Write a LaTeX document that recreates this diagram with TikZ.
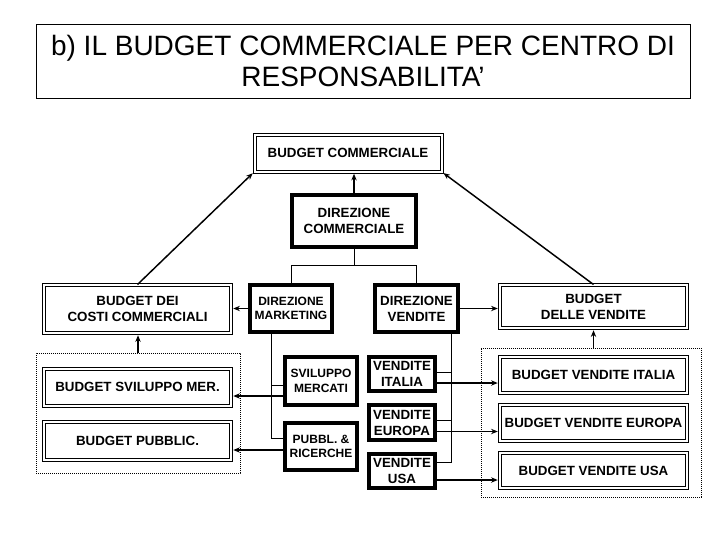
\documentclass[tikz,border=0pt]{standalone}
\usepackage{fontspec}
\setmainfont{Liberation Sans}
\usetikzlibrary{arrows.meta, calc}

\tikzset{
    dbox/.style 2 args={draw, double, double distance=1.5pt, line width=0.75pt,
        minimum width=#1*0.75pt, minimum height=#2*0.75pt, inner sep=0pt,
        align=center, font=\fontsize{10}{12}\selectfont\bfseries},
    tbox/.style 2 args={draw, line width=3pt,
        minimum width=#1*0.75pt, minimum height=#2*0.75pt, inner sep=0pt,
        align=center, font=\fontsize{10}{12}\selectfont\bfseries},
    smallfont/.style={font=\fontsize{9}{11}\selectfont\bfseries},
    dotbox/.style 2 args={draw, line width=0.6pt, dash pattern=on 0.6pt off 0.9pt,
        minimum width=#1*0.75pt, minimum height=#2*0.75pt, inner sep=0pt},
    arr/.style={-{Stealth[length=5pt,width=4pt]}, line width=1.1pt, shorten >=1.3pt},
    tree/.style={line width=0.75pt},
}

\begin{document}
\begin{tikzpicture}[x=0.75pt, y=-0.75pt]
    % Picture frame, in pixels of the 720 x 540 slide
    \useasboundingbox (0,0) rectangle (720,540);

    \def\mkx{271} % x of the marketing trunk line
    \def\vdx{451} % x of the sales trunk line

    % --- Title ---
    \node[draw, line width=0.75pt, minimum width=654*0.75pt, minimum height=74*0.75pt,
        align=center, font=\fontsize{21}{23.5}\selectfont] (title) at (363,61)
        {b) IL BUDGET COMMERCIALE PER CENTRO DI\\RESPONSABILITA’};

    % --- Dotted groups (drawn first, boxes go over them) ---
    \node[dotbox={204}{120}] (ldot) at (138,413) {};
    \node[dotbox={220}{149}] (rdot) at (591,422.5) {};

    % --- Top ---
    \node[dbox={187}{37}] (bcomm) at (348,153) {BUDGET COMMERCIALE};
    \node[tbox={124}{52}] (dcomm) at (354,221) {DIREZIONE\\COMMERCIALE};

    % --- Second row ---
    \node[dbox={187}{48}] (bcosti) at (137.5,309) {BUDGET DEI\\COSTI COMMERCIALI};
    \node[tbox={82}{47}, smallfont] (dmark) at (291,308.5) {DIREZIONE\\MARKETING};
    \node[tbox={83}{47}] (dvend) at (416.5,308.5) {DIREZIONE\\VENDITE};
    \node[dbox={187}{43}] (bvend) at (593.5,306.5) {BUDGET\\DELLE VENDITE};

    % --- Marketing side ---
    \node[dbox={187}{37}] (bsvil) at (137.5,387) {BUDGET SVILUPPO MER.};
    \node[dbox={187}{38}] (bpubb) at (137.5,440.5) {BUDGET PUBBLIC.};
    \node[tbox={72}{48}, smallfont] (svil) at (321,381) {SVILUPPO\\MERCATI};
    \node[tbox={72}{47}, smallfont] (pubb) at (321,446.5) {PUBBL. \&\\RICERCHE};

    % --- Sales side ---
    \foreach \nm/\y/\h/\txt in {vit/374/34/ITALIA, veu/422.5/35/EUROPA, vusa/471/34/USA} {
        \node[tbox={66}{\h}] (\nm) at (402,\y) {VENDITE\\\txt};
    }
    \foreach \nm/\y/\h/\txt in {bvit/375/36/ITALIA, bveu/423/36/EUROPA, bvusa/470.5/35/USA} {
        \node[dbox={187}{\h}] (\nm) at (593.5,\y) {BUDGET VENDITE \txt};
    }

    % --- Arrows up to the commercial budget ---
    \draw[arr] (dcomm.north) -- (dcomm.north |- bcomm.south);
    \draw[arr] (bcosti.north) -- (bcomm.south west);
    \draw[arr] (bvend.north) -- (bcomm.south east);
    \draw[arr] (dmark.west) -- (dmark.west -| bcosti.east);
    \draw[arr] (dvend.east) -- (dvend.east -| bvend.west);
    \draw[arr] (ldot.north) -- (ldot.north |- bcosti.south);
    \draw[arr] (bvend.south |- rdot.north) -- (bvend.south);

    % --- Organisation tree ---
    \draw[tree] (dcomm.south) -- ++(0,16) -| (dmark.north);
    \draw[tree] (dcomm.south) -- ++(0,16) -| (dvend.north);

    \coordinate (mk) at (\mkx,0);
    \draw[tree] (mk |- dmark.south) |- ($(svil.west)+(0,4)$);
    \draw[tree] (mk |- dmark.south) |- ($(pubb.west)+(0,-8.5)$);

    \coordinate (vk) at (\vdx,0);
    \foreach \nm/\dy in {vit/-2, veu/-2.5, vusa/-9} {
        \draw[tree] (vk |- dvend.south) |- ($(\nm.east)+(0,\dy)$);
    }

    % --- Arrows into the budgets ---
    \draw[arr] ($(svil.west)+(0,15)$) coordinate (s1) -- (s1 -| bsvil.east);
    \draw[arr] ($(pubb.west)+(0,3.5)$) coordinate (s2) -- (s2 -| bpubb.east);
    \foreach \nm/\bn in {vit/bvit, veu/bveu, vusa/bvusa} {
        \draw[arr] ($(\nm.east)+(0,9)$) coordinate (s3) -- (s3 -| \bn.west);
    }
\end{tikzpicture}
\end{document}
